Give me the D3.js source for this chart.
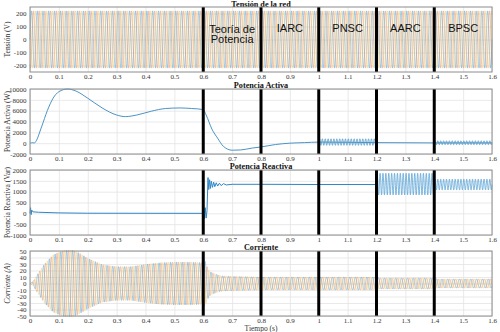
<!DOCTYPE html>
<html>
<head>
<meta charset="utf-8">
<script src="https://cdn.jsdelivr.net/npm/d3@7"></script>
<style>
  body { margin: 0; background: #fff; }
  text { font-family: "Liberation Serif", "DejaVu Serif", serif; }
</style>
</head>
<body>
<svg id="chart"></svg>
<script>
// ---- data ----
const xTicks = [0, 0.1, 0.2, 0.3, 0.4, 0.5, 0.6, 0.7, 0.8, 0.9, 1, 1.1, 1.2, 1.3, 1.4, 1.5, 1.6];
const switchTimes = [0.6, 0.8, 1.0, 1.2, 1.4];
const strategyNames = [["Teoría de", "Potencia"], ["IARC"], ["PNSC"], ["AARC"], ["BPSC"]];
const strategyCenters = [0.7, 0.9, 1.1, 1.3, 1.5];

// grid voltage (three phase, 50 Hz)
const gridFreq = 50;
const voltageAmp = 220;

// active power (W)
const pTime  = [0, 0.01, 0.015, 0.02, 0.04, 0.06, 0.08, 0.10, 0.13, 0.16, 0.20, 0.25, 0.30, 0.33, 0.37, 0.42, 0.47, 0.52, 0.56, 0.60,
                0.61, 0.63, 0.65, 0.67, 0.70, 0.73, 0.77, 0.80, 0.85, 0.90, 0.95, 1.0, 1.2, 1.4, 1.6];
const pValue = [0, 80, 20, 300, 3000, 6000, 8300, 9500, 10000, 9600, 8300, 6500, 5200, 4900, 5200, 5900, 6400, 6500, 6400, 6200,
                5200, 2600, 900, -600, -1300, -1250, -900, -700, -250, 0, 100, 200, 100, 50, 50];
const pRippleStart = [1.0, 1.4];
const pRippleEnd   = [1.2, 1.6];
const pRippleMean  = [200, 80];
const pRippleAmp   = [600, 360];

// reactive power (Var)
const qTime  = [0, 0.002, 0.004, 0.006, 0.01, 0.03, 0.1, 0.2, 0.598, 0.601, 0.604, 0.607, 0.610, 0.613, 0.6165, 0.619,
                0.622, 0.625, 0.628, 0.632, 0.636, 0.640, 0.645, 0.650, 0.656, 0.662, 0.670, 0.680, 0.70, 0.8, 1.0, 1.2];
const qValue = [0, 260, -60, 150, 70, 50, 20, 5, 0, 320, -250, 260, -220, 120, 1650, 1100,
                1550, 1150, 1480, 1200, 1440, 1230, 1410, 1260, 1390, 1280, 1370, 1310, 1340, 1340, 1330, 1330];
const qRippleStart = [1.2, 1.4];
const qRippleEnd   = [1.4, 1.6];
const qRippleMean  = [1350, 1330];
const qRippleAmp   = [500, 250];
const rippleFreq = 100;

// current envelope (A)
const iTime = [0, 0.01, 0.02, 0.05, 0.08, 0.10, 0.12, 0.15, 0.17, 0.20, 0.25, 0.30, 0.35, 0.40, 0.45, 0.50, 0.55, 0.60,
               0.605, 0.615, 0.625, 0.64, 0.66, 0.70, 0.80, 1.0, 1.2, 1.21, 1.4, 1.41, 1.6];
const iAmp  = [0, 3, 10, 30, 44, 48, 51, 51, 47, 39, 29, 26, 26, 29.5, 32, 33, 33, 32,
               36, 24, 18, 15, 12, 11, 10, 10, 10, 8.5, 8.5, 7, 7];

const phaseColors = ["#3d95cf", "#e08a5c", "#efc56a"];

// ---- layout ----
const W = 500, H = 332;
const left = 30, right = 492;

const panels = [
  { top: 7,   bottom: 72,  domain: [-250, 250],    ticks: [-200, -100, 0, 100, 200],
    title: "Tensión de la red", ylabel: "Tensión (V)" },
  { top: 89,  bottom: 154, domain: [-2000, 10000], ticks: [-2000, 0, 2000, 4000, 6000, 8000, 10000],
    title: "Potencia Activa", ylabel: "Potencia Activa (W)" },
  { top: 170, bottom: 235, domain: [-1000, 2000],  ticks: [-1000, -500, 0, 500, 1000, 1500, 2000],
    title: "Potencia Reactiva", ylabel: "Potencia Reactiva (Var)" },
  { top: 251, bottom: 316, domain: [-50, 50],      ticks: [-50, -40, -30, -20, -10, 0, 10, 20, 30, 40, 50],
    title: "Corriente", ylabel: "Corriente (A)", italic: true }
];

const svg = d3.select("#chart").attr("width", W).attr("height", H);

const x = d3.scaleLinear().domain([0, 1.6]).range([left, right]);
const dt = 0.0004;
const tSamples = d3.range(0, 1.6 + dt / 2, dt);

panels.forEach(p => {
  const y = d3.scaleLinear().domain(p.domain).range([p.bottom, p.top]);
  p.y = y;
  const g = svg.append("g");

  g.append("rect")
    .attr("x", left).attr("y", p.top)
    .attr("width", right - left).attr("height", p.bottom - p.top)
    .attr("fill", "#fff");

  // grid + tick labels
  const gx = g.append("g")
    .attr("transform", `translate(0,${p.bottom})`)
    .call(d3.axisBottom(x).tickValues(xTicks).tickSize(-(p.bottom - p.top)).tickPadding(2.5).tickFormat(d => String(d)));
  const gy = g.append("g")
    .attr("transform", `translate(${left},0)`)
    .call(d3.axisLeft(y).tickValues(p.ticks).tickSize(-(right - left)).tickPadding(3.5).tickFormat(d => String(d)));
  [gx, gy].forEach(a => {
    a.select(".domain").remove();
    a.selectAll(".tick line").attr("stroke", "#e3e3e3").attr("stroke-width", 0.8);
    a.selectAll(".tick text").attr("font-size", 7).attr("fill", "#333")
      .style("font-family", "Liberation Serif, serif");
  });

  p.plot = g.append("g");

  // title
  g.append("text")
    .attr("x", (left + right) / 2).attr("y", Math.max(p.top - 0.8, 7.4))
    .attr("text-anchor", "middle")
    .attr("font-size", 8.2).attr("font-weight", "bold").attr("fill", "#111")
    .text(p.title);

  // y label
  g.append("text")
    .attr("transform", `translate(7,${(p.top + p.bottom) / 2}) rotate(-90)`)
    .attr("dy", "0.35em")
    .attr("text-anchor", "middle")
    .attr("font-size", 7.5).attr("fill", "#333")
    .style("font-style", p.italic ? "italic" : "normal")
    .text(p.ylabel);
});

const line = d3.line().x(d => x(d[0]));

// panel 1: grid voltage
phaseColors.forEach((c, j) => {
  const pts = tSamples.map(t => [t, voltageAmp * Math.sin(2 * Math.PI * gridFreq * t - j * 2 * Math.PI / 3)]);
  panels[0].plot.append("path")
    .attr("d", line.y(d => panels[0].y(d[1]))(pts))
    .attr("fill", "none").attr("stroke", c).attr("stroke-width", 0.7).attr("opacity", 0.65);
});

// panel 2: active power
const pLine = d3.line().x(d => x(d[0])).y(d => panels[1].y(d[1])).curve(d3.curveMonotoneX);
panels[1].plot.append("path")
  .attr("d", pLine(d3.zip(pTime, pValue)))
  .attr("fill", "none").attr("stroke", "#4b94c6").attr("stroke-width", 1);
pRippleStart.forEach((t0, i) => {
  const pts = tSamples.filter(t => t >= t0 && t <= pRippleEnd[i])
    .map(t => [t, pRippleMean[i] + pRippleAmp[i] * Math.sin(2 * Math.PI * rippleFreq * t)]);
  panels[1].plot.append("path")
    .attr("d", line.y(d => panels[1].y(d[1]))(pts))
    .attr("fill", "none").attr("stroke", "#4b94c6").attr("stroke-width", 0.8);
});

// panel 3: reactive power
panels[2].plot.append("path")
  .attr("d", d3.line().x(d => x(d[0])).y(d => panels[2].y(d[1]))(d3.zip(qTime, qValue)))
  .attr("fill", "none").attr("stroke", "#2f86c4").attr("stroke-width", 1);
qRippleStart.forEach((t0, i) => {
  const pts = tSamples.filter(t => t >= t0 && t <= qRippleEnd[i])
    .map(t => [t, qRippleMean[i] + qRippleAmp[i] * Math.sin(2 * Math.PI * rippleFreq * t)]);
  panels[2].plot.append("path")
    .attr("d", line.y(d => panels[2].y(d[1]))(pts))
    .attr("fill", "none").attr("stroke", "#5aa3d6").attr("stroke-width", 0.8);
});

// panel 4: current
const env = d3.scaleLinear().domain(iTime).range(iAmp);
phaseColors.forEach((c, j) => {
  const pts = tSamples.map(t => [t, env(t) * Math.sin(2 * Math.PI * gridFreq * t - j * 2 * Math.PI / 3 - 0.6)]);
  panels[3].plot.append("path")
    .attr("d", line.y(d => panels[3].y(d[1]))(pts))
    .attr("fill", "none").attr("stroke", c).attr("stroke-width", 0.7).attr("opacity", 0.65);
});

// switching instants, frame
panels.forEach(p => {
  svg.append("g").selectAll("line")
    .data(switchTimes)
    .join("line")
      .attr("x1", d => x(d)).attr("x2", d => x(d))
      .attr("y1", p.top).attr("y2", p.bottom)
      .attr("stroke", "#000").attr("stroke-width", 3);
  svg.append("rect")
    .attr("x", left).attr("y", p.top)
    .attr("width", right - left).attr("height", p.bottom - p.top)
    .attr("fill", "none").attr("stroke", "#8c8c8c").attr("stroke-width", 1);
});

// strategy labels
const labels = svg.append("g").selectAll("text")
  .data(strategyNames)
  .join("text")
    .attr("text-anchor", "middle")
    .attr("font-size", 11).attr("fill", "#111")
    .style("font-family", "Liberation Sans, Arial, sans-serif")
    .attr("x", (d, i) => x(strategyCenters[i]));
labels.each(function(d) {
  const el = d3.select(this);
  d.forEach((s, j) => {
    el.append("tspan")
      .attr("x", el.attr("x"))
      .attr("y", d.length > 1 ? 32.5 + j * 10.5 : 32.3)
      .text(s);
  });
});

// x axis label
svg.append("text")
  .attr("x", (left + right) / 2).attr("y", 331)
  .attr("text-anchor", "middle")
  .attr("font-size", 7.5).attr("fill", "#333")
  .text("Tiempo (s)");
</script>
</body>
</html>
